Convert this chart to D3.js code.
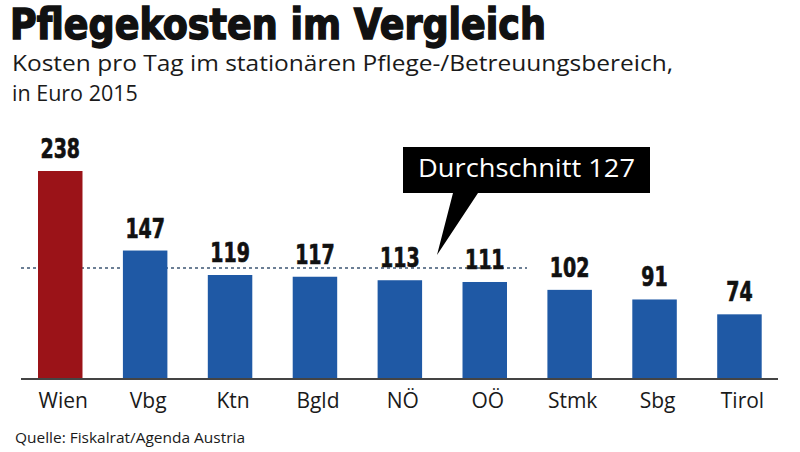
<!DOCTYPE html>
<html><head><meta charset="utf-8">
<script src="https://cdn.jsdelivr.net/npm/d3@7"></script>
<style>body{margin:0;background:#fff}svg{display:block}</style>
</head><body>
<svg id="c" width="800" height="452"></svg>
<script>
const categories = ["Wien","Vbg","Ktn","Bgld","NÖ","OÖ","Stmk","Sbg","Tirol"];
const values = [238,147,119,117,113,111,102,91,74];
const highlight = ["Wien"];
const average = 127;
const titleText = "Pflegekosten im Vergleich";
const subtitleLines = ["Kosten pro Tag im stationären Pflege-/Betreuungsbereich,","in Euro 2015"];
const calloutText = "Durchschnitt 127";
const sourceText = "Quelle: Fiskalrat/Agenda Austria";

const svg = d3.select("#c");
const W = 800, H = 452;
svg.append("rect").attr("width",W).attr("height",H).attr("fill","#fff");

const baseY = 379;
const x = d3.scaleBand().domain(categories).range([17.8, 781.9]).paddingInner(0.476).paddingOuter(0.238);
const y = d3.scaleLinear().domain([0, 238]).range([baseY, 171]);

// title
svg.append("text").attr("x",10).attr("y",38.5)
  .attr("font-family","'DejaVu Sans Condensed','DejaVu Sans',sans-serif").attr("font-weight","bold")
  .attr("font-size",42).attr("fill","#111").attr("stroke","#111").attr("stroke-width",1.4)
  .attr("textLength",536).attr("lengthAdjust","spacingAndGlyphs").text(titleText);

const subW = [661, null];
subtitleLines.forEach((t,i)=>{
  const el = svg.append("text").attr("x",12).attr("y",71+29.5*i)
    .attr("font-family","'Open Sans',sans-serif").attr("font-size",21.5).attr("fill","#1a1a1a").text(t);
  if (subW[i]) el.attr("textLength",subW[i]).attr("lengthAdjust","spacingAndGlyphs");
});

// average dashed line
svg.append("line").attr("x1",21).attr("x2",527).attr("y1",y(average)).attr("y2",y(average))
  .attr("stroke","#3d5573").attr("stroke-width",1.6).attr("stroke-dasharray","3,3");

// bars
svg.selectAll("rect.bar").data(categories).join("rect").attr("class","bar")
  .attr("x",d=>x(d)).attr("width",x.bandwidth())
  .attr("y",(d,i)=>y(values[i])).attr("height",(d,i)=>baseY-y(values[i]))
  .attr("fill",d=>highlight.includes(d)?"#9b1318":"#1f59a5");

// value labels
svg.selectAll("text.val").data(categories).join("text").attr("class","val")
  .attr("x",d=>x(d)+x.bandwidth()/2).attr("y",(d,i)=>y(values[i])-13)
  .attr("text-anchor","middle")
  .attr("font-family","'DejaVu Sans Condensed','DejaVu Sans',sans-serif").attr("font-weight","bold")
  .attr("font-size",27).attr("fill","#111").attr("stroke","#111").attr("stroke-width",0.7)
  .attr("transform",(d,i)=>{const cx=x(d)+x.bandwidth()/2;return `translate(${cx},0) scale(0.78,1) translate(${-cx},0)`;})
  .text((d,i)=>values[i]);

// axis
const axis = svg.append("g").attr("transform",`translate(0,${baseY})`)
  .call(d3.axisBottom(x).tickSize(0).tickPadding(16));
axis.select(".domain").remove();
axis.append("line").attr("x1",21).attr("x2",778).attr("stroke","#444").attr("stroke-width",2);
axis.selectAll(".tick text").attr("font-family","'Open Sans',sans-serif").attr("font-size",21)
  .attr("fill","#1a1a1a").attr("dx",3).attr("dy","0.6em");

// callout
const bx=403, by=147, bw=247, bh=46;
svg.append("path").attr("d",`M${bx},${by}h${bw}v${bh}h${-172}L437,255L453,${by+bh}H${bx}Z`).attr("fill","#000");
svg.append("text").attr("x",bx+bw/2).attr("y",177).attr("text-anchor","middle")
  .attr("font-family","'Open Sans',sans-serif").attr("font-size",25).attr("fill","#fff")
  .attr("textLength",217).attr("lengthAdjust","spacingAndGlyphs").text(calloutText);

// source
svg.append("text").attr("x",15).attr("y",443).attr("font-family","'Open Sans',sans-serif")
  .attr("font-size",14).attr("fill","#1a1a1a").attr("textLength",230).attr("lengthAdjust","spacingAndGlyphs").text(sourceText);
</script>
</body></html>
